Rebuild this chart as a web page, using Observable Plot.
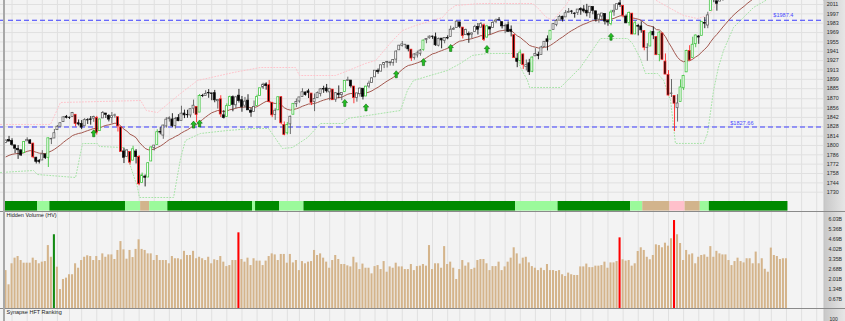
<!DOCTYPE html>
<html><head><meta charset="utf-8">
<script src="https://cdn.jsdelivr.net/npm/d3@7"></script>
<script src="https://cdn.jsdelivr.net/npm/@observablehq/plot@0.6"></script>
<style>
html,body{margin:0;padding:0;background:#fff;}
#chart{position:relative;width:845px;height:321px;overflow:hidden;background:linear-gradient(to right,#f3f3f3 0,#f3f3f3 823px,#bdbdbd 823px,#c9c9c9 825px,#e6e6e6 845px);font-family:"Liberation Sans",Arial,sans-serif;}
#chart svg{position:absolute;left:0;display:block;}
.sep{position:absolute;left:0;width:845px;height:1px;background:#8a8a8a;}
.lb{position:absolute;left:3.3px;top:0;width:1.5px;height:321px;background:#a8a8a8;}
</style></head><body><div id="chart"></div>
<script>
// ---- data (S&P 500 daily, Nov 27 2013 .. Dec 8 2014) ----
const open = [
1803.5,1808.0,1806.6,1800.1,1794.7,1792.8,1788.4,1806.2,1807.6,1802.8,
1781.7,1777.0,1777.5,1786.5,1781.5,1809.0,1810.4,1822.9,1828.0,1834.9,
1842.9,1841.5,1842.6,1845.9,1833.2,1832.3,1828.7,1837.9,1839.0,1840.1,
1841.3,1821.4,1840.5,1847.8,1844.2,1841.1,1844.7,1842.3,1827.0,1791.0,
1783.0,1790.2,1777.2,1790.9,1782.7,1743.8,1753.4,1752.0,1776.0,1796.2,
1800.5,1820.1,1814.8,1828.5,1839.3,1838.9,1829.2,1841.1,1836.8,1847.7,
1845.8,1844.9,1855.1,1857.7,1849.2,1874.1,1874.2,1878.5,1877.9,1878.3,
1866.2,1869.1,1845.1,1842.8,1858.9,1872.3,1860.1,1874.5,1867.7,1859.5,
1867.1,1852.1,1850.1,1859.2,1873.9,1886.6,1891.4,1890.3,1863.9,1845.5,
1852.6,1872.3,1830.7,1818.2,1831.5,1846.0,1861.7,1865.8,1872.6,1879.3,
1881.0,1877.7,1865.0,1870.8,1877.1,1884.4,1885.3,1879.5,1883.7,1868.5,
1877.4,1875.3,1880.0,1896.8,1897.1,1888.2,1871.2,1876.7,1884.9,1873.3,
1888.2,1893.3,1902.0,1911.8,1910.6,1920.3,1923.9,1923.1,1923.1,1928.5,
1942.4,1948.9,1950.3,1949.4,1943.4,1930.8,1934.8,1937.2,1942.7,1957.5,
1960.4,1962.9,1961.9,1949.3,1959.9,1956.6,1960.8,1962.3,1973.1,1975.9,
1984.2,1976.4,1965.1,1966.7,1965.8,1969.9,1977.4,1976.4,1979.8,1961.5,
1976.9,1975.7,1985.3,1988.1,1984.6,1978.3,1980.0,1973.2,1965.1,1929.8,
1926.6,1936.3,1917.3,1923.0,1910.4,1933.4,1935.7,1935.6,1947.4,1958.9,
1958.4,1972.7,1980.5,1986.8,1992.6,1991.7,1998.6,2000.5,1997.4,1998.5,
2004.1,2003.6,2001.7,1998.0,2007.2,2000.7,1988.4,1992.9,1996.7,1986.0,
1981.9,1999.3,2003.1,2012.7,2009.1,1992.8,1983.3,1997.3,1966.2,1979.0,
1978.2,1971.4,1945.8,1948.1,1970.0,1962.4,1935.6,1967.7,1925.6,1905.7,
1877.1,1874.2,1855.9,1864.9,1885.6,1909.4,1941.3,1931.0,1951.6,1963.0,
1964.1,1983.3,1979.5,2001.2,2018.2,2015.8,2015.3,2023.3,2032.0,2032.0,
2038.2,2037.8,2039.2,2039.7,2038.3,2041.5,2051.2,2045.9,2057.5,2065.1,
2070.2,2067.4,2074.8,2065.8,2053.8,2067.5,2073.6,2072.8,2074.8];
const high = [
1808.4,1813.6,1810.0,1800.1,1799.8,1792.8,1806.0,1811.5,1808.5,1803.0,
1782.0,1779.0,1792.2,1786.8,1811.1,1810.9,1823.8,1829.8,1833.3,1842.8,
1844.9,1842.5,1849.4,1845.9,1838.2,1837.2,1840.1,1840.0,1843.2,1843.8,
1843.5,1839.3,1850.8,1847.8,1846.0,1849.3,1846.9,1842.3,1827.0,1795.9,
1793.9,1790.2,1798.8,1793.9,1784.8,1758.7,1755.8,1774.1,1798.0,1799.9,
1823.5,1826.6,1830.3,1841.7,1842.9,1847.5,1842.0,1846.1,1858.7,1852.9,
1852.7,1854.5,1867.9,1857.7,1876.2,1876.5,1881.9,1883.6,1877.9,1882.4,
1868.4,1874.4,1852.4,1862.3,1873.8,1874.1,1873.5,1883.9,1873.3,1871.9,
1875.9,1855.6,1866.6,1875.2,1885.8,1893.2,1893.8,1897.3,1864.0,1854.9,
1872.4,1872.5,1835.1,1834.2,1844.0,1862.3,1869.6,1871.9,1884.9,1879.8,
1884.1,1877.7,1877.0,1880.0,1885.2,1888.6,1891.3,1885.5,1883.7,1879.0,
1889.1,1878.8,1897.1,1902.2,1897.1,1888.2,1878.3,1886.0,1884.9,1888.8,
1896.3,1901.3,1912.3,1914.5,1920.0,1924.0,1925.9,1925.1,1928.6,1941.7,
1949.4,1955.6,1950.9,1949.4,1943.4,1937.3,1941.2,1943.7,1957.7,1959.9,
1963.9,1963.7,1968.2,1960.8,1959.9,1961.0,1964.2,1978.6,1976.7,1985.6,
1984.2,1976.4,1974.2,1969.8,1968.7,1979.8,1982.5,1983.9,1981.8,1979.9,
1976.9,1986.2,1989.2,1991.4,1984.6,1981.5,1984.9,1978.9,1965.1,1937.4,
1942.9,1936.3,1927.9,1928.9,1932.4,1944.9,1939.7,1948.4,1955.2,1964.0,
1972.0,1982.6,1988.6,1994.8,1993.5,2001.9,2005.0,2002.1,1998.6,2003.4,
2006.1,2009.3,2011.2,2007.7,2007.2,2001.0,1996.7,1997.7,1996.7,1987.2,
2002.3,2010.7,2012.3,2019.3,2009.1,1995.4,1999.8,1997.3,1986.4,1981.3,
1985.2,1971.4,1952.3,1971.2,1977.4,1962.4,1970.4,1967.7,1937.0,1912.1,
1898.7,1874.2,1876.0,1898.2,1905.0,1942.5,1949.3,1962.0,1965.3,1964.6,
1985.1,1991.4,1999.4,2018.2,2024.5,2016.0,2023.8,2031.6,2034.3,2038.7,
2040.3,2040.3,2046.2,2042.2,2043.1,2056.1,2052.1,2053.8,2071.5,2070.2,
2074.2,2073.3,2075.8,2065.8,2068.8,2076.3,2077.3,2079.5,2075.8];
const low = [
1802.8,1805.8,1798.6,1787.9,1779.1,1783.4,1788.4,1806.2,1801.4,1780.1,
1772.3,1772.3,1777.5,1778.9,1767.0,1801.3,1810.4,1822.9,1828.0,1834.9,
1839.8,1838.8,1842.4,1827.7,1829.1,1823.7,1828.7,1831.4,1830.4,1834.6,
1815.5,1821.4,1840.5,1840.3,1835.2,1832.4,1840.9,1820.1,1790.3,1772.9,
1783.0,1770.5,1777.2,1772.3,1739.7,1743.8,1737.9,1752.0,1776.0,1791.8,
1800.5,1815.9,1809.2,1825.9,1835.0,1826.9,1824.6,1835.6,1836.8,1840.2,
1840.7,1841.1,1847.5,1834.4,1849.2,1871.6,1874.2,1870.6,1867.0,1863.9,
1854.4,1841.9,1839.6,1842.8,1858.9,1850.4,1854.6,1863.5,1849.7,1855.9,
1852.6,1842.1,1850.1,1859.2,1873.9,1883.8,1882.7,1863.3,1841.5,1837.5,
1852.4,1830.9,1814.4,1815.8,1816.3,1846.0,1856.7,1863.2,1872.6,1873.9,
1870.2,1859.7,1850.6,1870.8,1872.7,1878.0,1878.5,1866.8,1867.7,1864.5,
1870.1,1867.0,1880.0,1896.1,1885.8,1862.4,1864.8,1872.4,1868.1,1873.3,
1885.4,1893.3,1902.0,1906.6,1909.8,1915.0,1915.9,1918.8,1918.6,1922.9,
1942.4,1947.2,1944.6,1940.1,1925.8,1927.7,1930.9,1933.6,1941.1,1952.3,
1959.2,1958.9,1948.3,1947.5,1944.7,1952.2,1958.2,1962.3,1972.6,1975.9,
1974.9,1959.5,1965.1,1952.9,1959.6,1969.9,1965.3,1975.7,1955.6,1960.8,
1965.8,1975.7,1982.4,1985.8,1974.4,1967.3,1969.9,1962.4,1930.7,1916.4,
1921.2,1913.8,1911.5,1904.8,1909.0,1933.4,1928.3,1935.6,1947.4,1941.5,
1958.4,1972.7,1977.7,1986.8,1984.8,1991.7,1998.6,1996.2,1990.5,1994.6,
1994.9,1998.1,1992.5,1990.1,1995.6,1984.6,1983.0,1985.9,1980.3,1978.5,
1979.1,1993.3,2003.1,2006.6,1991.0,1982.4,1978.6,1966.0,1966.2,1964.0,
1968.0,1941.7,1926.0,1948.1,1958.4,1935.1,1925.3,1927.6,1906.1,1874.1,
1871.8,1820.7,1835.0,1864.9,1882.3,1909.4,1926.8,1931.0,1946.3,1951.4,
1964.1,1974.8,1974.8,2001.2,2013.7,2001.0,2015.3,2015.9,2025.1,2030.2,
2033.2,2031.3,2030.4,2035.2,2030.2,2041.5,2040.4,2040.5,2056.8,2065.1,
2064.8,2066.6,2065.1,2049.6,2053.8,2066.7,2062.3,2070.8,2054.3];
const close = [
1807.2,1805.8,1800.9,1795.2,1792.8,1785.0,1805.1,1808.4,1802.6,1782.2,
1775.5,1775.3,1786.5,1781.0,1810.7,1809.6,1818.3,1828.0,1833.3,1842.0,
1841.4,1841.1,1848.4,1832.0,1831.4,1826.8,1837.9,1837.5,1838.1,1842.4,
1819.2,1838.9,1848.4,1845.9,1838.7,1843.8,1844.9,1828.5,1790.3,1781.6,
1792.5,1774.2,1794.2,1782.6,1741.9,1755.2,1751.6,1773.4,1797.0,1799.8,
1819.8,1819.3,1829.8,1838.6,1840.8,1828.8,1839.8,1836.3,1847.6,1845.1,
1845.2,1854.3,1859.5,1845.7,1873.9,1873.8,1877.0,1878.0,1877.2,1867.6,
1868.2,1846.3,1841.1,1858.8,1872.3,1860.8,1872.0,1866.5,1857.4,1865.6,
1852.6,1849.0,1857.6,1872.3,1885.5,1890.9,1888.8,1865.1,1845.0,1852.0,
1872.2,1833.1,1815.7,1830.6,1843.0,1862.3,1864.9,1871.9,1879.6,1875.4,
1878.6,1863.4,1869.4,1878.3,1884.0,1883.7,1881.1,1884.7,1867.7,1878.2,
1875.6,1878.5,1896.7,1897.5,1888.5,1870.9,1877.9,1885.1,1872.8,1888.0,
1892.5,1900.5,1911.9,1909.8,1920.0,1923.6,1925.0,1924.2,1927.9,1940.5,
1949.4,1951.3,1950.8,1943.9,1930.1,1936.2,1937.8,1942.0,1957.0,1959.5,
1962.9,1962.6,1950.0,1959.5,1957.2,1961.0,1960.2,1973.3,1974.6,1985.4,
1977.7,1963.7,1972.8,1964.7,1967.6,1977.1,1973.3,1981.6,1958.1,1978.2,
1973.6,1983.5,1987.0,1988.0,1978.3,1978.9,1970.0,1970.1,1930.7,1925.2,
1939.0,1920.2,1920.2,1909.6,1931.6,1936.9,1933.8,1946.7,1955.2,1955.1,
1971.7,1981.6,1986.5,1992.4,1988.4,1997.9,2000.0,2000.1,1996.7,2003.4,
2002.3,2000.7,1997.7,2007.7,2001.5,1988.4,1995.7,1997.5,1985.5,1984.1,
1999.0,2001.6,2011.4,2010.4,1994.3,1982.8,1998.3,1966.0,1982.9,1977.8,
1972.3,1946.2,1946.2,1967.9,1964.8,1935.1,1968.9,1928.2,1906.1,1874.7,
1877.7,1862.5,1862.8,1886.8,1904.0,1941.3,1927.1,1950.8,1964.6,1961.6,
1985.1,1982.3,1994.7,2018.1,2017.8,2012.1,2023.6,2031.2,2031.9,2038.3,
2039.7,2038.3,2039.3,2039.8,2041.3,2051.8,2048.7,2052.8,2063.5,2069.4,
2067.0,2072.8,2067.6,2053.4,2066.6,2074.3,2071.9,2075.4,2060.3];
// hidden volume, billions
const volume = [
2.6,1.64,3.06,3.44,3.55,3.28,3.1,3.1,3.1,3.44,
3.28,3.06,3.17,3.21,4.29,3.5,5.02,2.83,1.32,2.0,
2.09,2.32,2.32,3.06,2.76,3.28,3.5,3.6,3.55,3.28,
3.55,3.28,3.73,3.5,3.66,3.66,3.35,3.96,4.56,4.0,
3.37,3.96,3.48,4.03,4.68,4.03,3.96,3.73,3.73,3.28,
3.62,3.28,3.28,3.28,3.06,3.55,3.4,3.4,3.33,3.9,
3.62,3.62,3.9,3.4,3.5,3.4,3.28,3.5,3.06,3.33,
3.28,3.55,3.17,2.87,2.94,3.28,3.28,5.15,3.35,3.17,
3.44,2.94,3.4,3.24,3.24,2.94,3.24,3.55,3.73,3.66,
3.28,3.69,3.69,3.1,3.69,3.12,3.28,2.6,3.21,3.06,
3.17,3.21,3.96,3.62,3.73,3.44,3.17,2.76,3.28,3.62,
3.35,3.01,3.01,2.92,2.85,3.5,3.12,2.67,3.04,2.76,
2.76,2.38,2.87,2.94,2.67,3.21,2.49,2.85,2.76,3.1,
2.85,2.85,2.67,2.67,3.01,2.6,2.87,2.9,3.01,2.9,
4.29,2.67,3.06,3.06,2.76,4.22,3.01,3.17,2.76,2.0,
2.67,3.28,2.9,3.12,2.67,2.76,3.28,3.35,3.35,3.06,
2.6,2.87,2.87,3.17,2.6,2.85,3.17,3.44,4.14,3.73,
3.04,3.44,3.5,3.12,2.87,2.76,2.6,2.76,2.6,3.01,
2.6,2.6,2.54,2.6,2.32,2.2,2.43,2.32,2.27,2.27,
2.85,2.85,3.04,2.8,2.8,2.9,2.9,2.94,3.17,2.76,
3.12,3.12,3.21,4.81,3.33,3.24,3.28,2.9,3.06,3.89,
4.14,3.96,3.5,3.33,3.62,4.34,4.29,4.14,4.45,4.25,
4.75,5.98,5.02,4.43,3.28,3.96,3.66,3.73,3.06,3.5,
3.62,3.66,3.5,4.22,3.5,3.9,3.73,3.66,3.66,3.28,
2.94,3.21,3.44,3.21,3.12,3.4,3.4,3.06,3.85,3.06,
3.4,2.69,2.49,4.12,3.62,3.55,3.35,3.4,3.4];
const hvBuy = [16];
const hvSell = [77, 203, 221];
const arrowIdx = [29, 62, 64, 112, 119, 129, 138, 147, 159, 200];
const emaStart = 1783;
const levels = [1987.4, 1827.66];
const levelLabels = ["$1987.4", "$1827.66"];
const priceTicks = [1730,1744,1758,1772,1786,1800,1814,1828,1842,1856,1870,1885,1899,1913,1927,1941,1955,1969,1983,1997,2011];
const volTicks = [0.67,1.34,2.01,2.68,3.35,4.02,4.69,5.36,6.03];
const weekStarts = [2,7,12,17,21,25,30,35,39,44,49,54,58,63,68,73,78,83,88,93,97,102,107,112,117,122,126,131,136,141,146,150,155,160,165,170,175,180,185,190,194,199,204,209,214,219,224,229,234,239,244,249,253,258,263,268];
const rankStart = [0,11,15,40,45,48,54,82,83,91,99,169,183,207,211,220,225,230,233];
const rankCode  = ["strong","mild","strong","mild","neutral","mild","strong","mild","strong","mild","strong","mild","strong","mild","neutral","weak","neutral","mild","strong"];
const upperIdx = [-1.8,14.7,18.0,44.5,46.4,50.1,57.7,63.3,75.2,84.1,95.7,97.0,108.9,113.2,118.8,122.2,127.8,131.1,135.4,144.3,146.3,148.6,156.9,174.1,176.0,178.3,180.7,185.0,188.3,213.0,215.0,219.7,224.0,228.6,231.9,233.6,235.2,237.9];
const upperVal = [1831.4,1831.4,1864.3,1867.3,1852.3,1849.3,1877.8,1897.2,1909.2,1916.7,1916.7,1904.7,1904.7,1912.2,1922.7,1927.2,1957.1,1972.1,1979.6,1991.5,2002.0,2009.5,2012.5,2012.5,2005.0,1993.0,1987.0,2009.5,2032,2032,2017.0,2005.0,1994.5,1990.0,1994.5,2002.0,2017,2047];
const lowerIdx = [-1.8,9.1,10.4,23.0,25.3,30.2,30.9,38.8,40.2,43.5,44.1,55.4,57.7,59.3,64.3,73.2,81.8,86.8,89.1,91.4,94.7,99.7,104.0,111.6,112.9,119.5,123.8,130.4,132.7,134.7,138.0,145.9,150.2,154.2,159.2,167.8,170.1,172.4,173.1,183.3,189.9,196.5,205.5,207.1,209.7,211.4,215.4,217.4,219.7,221.3,230.6,231.9,233.9,235.5,237.2,240.5,242.8,247.1,249.4,253.8];
const lowerVal = [1759.5,1762.5,1756.5,1752.0,1802.9,1802.9,1798.4,1796.9,1781.9,1737.0,1722.1,1722.1,1780.4,1807.4,1817.9,1822.4,1825.4,1825.4,1810.4,1795.4,1796.9,1811.9,1832.9,1832.9,1840.4,1844.8,1847.8,1852.3,1882.3,1897.2,1901.7,1912.2,1922.7,1934.7,1937.7,1937.7,1916.7,1897.2,1886.8,1886.8,1916.7,1960.1,1960.1,1952.6,1930.2,1907.7,1907.7,1897.2,1867.3,1803.0,1803.0,1818.0,1882.3,1916.7,1942.1,1976.6,1987.0,2006.5,2012.5,2024];

// ---- derived tables ----
const bars = close.map((c, i) => ({i, o: open[i], h: high[i], l: low[i], c, v: volume[i], prev: i ? close[i - 1] : open[i]}));
let e = emaStart;
bars.forEach((b, i) => { e = i === 0 ? emaStart : e + (b.c - e) * 2 / 21; b.ema = e; });
const rankSegs = rankStart.map((s, k) => ({s, e: k + 1 < rankStart.length ? rankStart[k + 1] : bars.length, code: rankCode[k]}));
const upper = upperIdx.map((x, k) => ({x, y: upperVal[k]}));
const lower = lowerIdx.map((x, k) => ({x, y: lowerVal[k]}));
const arrows = arrowIdx.map(i => bars[i]);

// ---- styles ----
const FONT = "'Liberation Sans', Arial, sans-serif";
const BG = "#f3f3f3", GRID = "#e0e0e0";
const rankColor = {strong: "#008a00", mild: "#9bfa9b", neutral: "#d2b48c", weak: "#ffc0cb"};
const isUp = b => b.c >= b.o;
const chg = b => (b.c - b.prev) / b.prev;
const edge = b => isUp(b) ? (chg(b) > 0.007 ? "#3cc43c" : "#5a5a5a") : (chg(b) < -0.007 ? "#ff2424" : "#111");
const volColor = b => hvBuy.includes(b.i) ? "#128a12" : hvSell.includes(b.i) ? "#ff0000" : "#d4b48b";
const arrowSymbol = {draw(ctx) {
  ctx.moveTo(0, -3.6); ctx.lineTo(2.7, -0.4); ctx.lineTo(1.1, -0.4); ctx.lineTo(1.1, 3.4);
  ctx.lineTo(-1.1, 3.4); ctx.lineTo(-1.1, -0.4); ctx.lineTo(-2.7, -0.4); ctx.closePath();
}};
const xOpt = {domain: [-5.5 / 3.025, (823 - 5.5) / 3.025], axis: null};
const common = {width: 845, marginLeft: 0, marginRight: 22, marginTop: 0, marginBottom: 0,
  style: {background: "transparent", fontFamily: FONT, overflow: "hidden"}};

const price = Plot.plot({...common, height: 211, x: xOpt,
  y: {domain: [2011 - 207 / 0.668, 2011 + 4 / 0.668], axis: null},
  marks: [
    Plot.frame({fill: BG, stroke: null}),
    Plot.ruleY(priceTicks, {stroke: GRID, strokeWidth: 1}),
    Plot.ruleX(weekStarts, {stroke: GRID, strokeWidth: 1}),
    Plot.line(upper, {x: "x", y: "y", stroke: "#ffc3cb", strokeWidth: 1, strokeDasharray: "1,2", clip: true}),
    Plot.line(lower, {x: "x", y: "y", stroke: "#a6e3a6", strokeWidth: 1, strokeDasharray: "1,2", clip: true}),
    Plot.ruleY(levels, {stroke: "#3c3cff", strokeWidth: 1.1, strokeDasharray: "5,3"}),
    Plot.text([levels[0]], {y: d => d, text: () => levelLabels[0], frameAnchor: "right", textAnchor: "end", dx: -30, dy: -4.6, fill: "#4a4aff", fontSize: 5.6}),
    Plot.text([levels[1]], {y: d => d, text: () => levelLabels[1], frameAnchor: "right", textAnchor: "end", dx: -70, dy: -4.2, fill: "#4a4aff", fontSize: 5.6}),
    Plot.line(bars, {x: "i", y: "ema", stroke: "#a3584f", strokeWidth: 1, clip: true}),
    Plot.ruleX(bars, {x: "i", y1: "l", y2: "h", stroke: edge, strokeWidth: 0.9, clip: true}),
    Plot.rect(bars, {x1: d => d.i - 0.33, x2: d => d.i + 0.33, y1: "o", y2: "c", fill: d => isUp(d) ? "#fff" : "#000", stroke: edge, strokeWidth: 0.75, clip: true}),
    Plot.dot(arrows, {x: "i", y: "l", dy: 11, symbol: arrowSymbol, r: 3, fill: "#22c322", stroke: "#0b6a0b", strokeWidth: 0.6}),
    Plot.rect(rankSegs, {x1: d => d.s - 0.5, x2: d => d.e - 0.5, insetTop: 201, insetBottom: 0.4, fill: d => rankColor[d.code]}),
    Plot.text(priceTicks, {y: d => d, text: d => String(d), frameAnchor: "right", textAnchor: "start", dx: 3.2, fontSize: 5.4, fill: "#2a2a2a"})
  ]});

const vol = Plot.plot({...common, height: 97, x: xOpt,
  y: {domain: [0, 97.6 / 14.81], range: [97.6, 0], axis: null},
  marks: [
    Plot.frame({fill: BG, stroke: null}),
    Plot.ruleX(weekStarts, {stroke: GRID, strokeWidth: 1}),
    Plot.rect(bars, {x1: d => d.i - 0.34, x2: d => d.i + 0.34, y1: 0, y2: "v", fill: volColor}),
    Plot.text(volTicks, {y: d => d, text: d => d.toFixed(2) + "B", frameAnchor: "right", textAnchor: "start", dx: 5, fontSize: 5.2, fill: "#2a2a2a"}),
    Plot.text(["Hidden Volume (HV)"], {frameAnchor: "top-left", textAnchor: "start", lineAnchor: "top", dx: 6, dy: 1.6, fontSize: 5.5, fill: "#222"})
  ]});

const bottom = Plot.plot({...common, height: 13, x: xOpt, y: {axis: null},
  marks: [
    Plot.frame({fill: BG, stroke: null}),
    Plot.ruleX(weekStarts, {stroke: GRID, strokeWidth: 1}),
    Plot.text(["Synapse HFT Ranking"], {frameAnchor: "top-left", textAnchor: "start", lineAnchor: "top", dx: 6, dy: 1.7, fontSize: 5.5, fill: "#222"}),
    Plot.text(["100"], {frameAnchor: "bottom-right", textAnchor: "start", lineAnchor: "bottom", dx: 6, dy: -0.5, fontSize: 5, fill: "#2a2a2a"})
  ]});

const root = document.getElementById("chart");
[[price, 0], [vol, 211], [bottom, 308]].forEach(([svg, top]) => { svg.style.top = top + "px"; root.appendChild(svg); });
[210.5, 308].forEach(t => { const d = document.createElement("div"); d.className = "sep"; d.style.top = t + "px"; root.appendChild(d); });
const lb = document.createElement("div"); lb.className = "lb"; root.appendChild(lb);
</script></body></html>
